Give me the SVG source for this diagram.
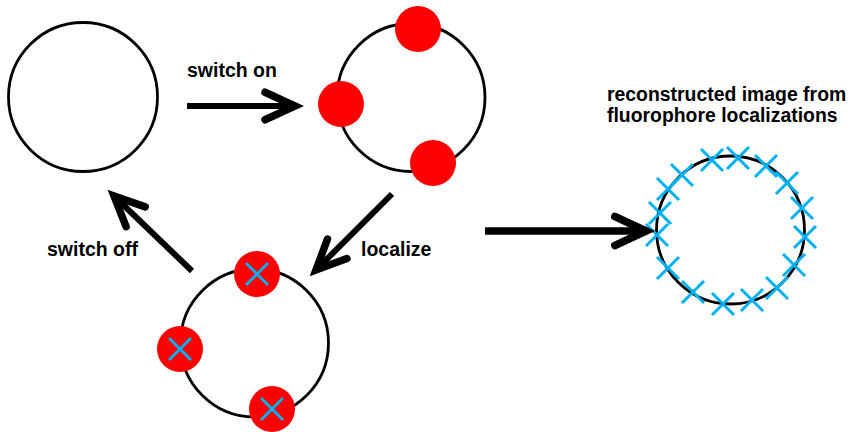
<svg xmlns="http://www.w3.org/2000/svg" width="853" height="432" viewBox="0 0 853 432">
<defs>
<style>
.ring{fill:none;stroke:#000;stroke-width:2.8}
.dot{fill:#ff0000}
.x{stroke:#00b0f0;stroke-width:3;fill:none}
.arr{stroke:#000;stroke-width:6;fill:none}
.lbl{font-family:"Liberation Sans",Arial,sans-serif;font-weight:bold;font-size:19.5px;fill:#000}
</style>
<marker id="ah" markerUnits="userSpaceOnUse" markerWidth="40" markerHeight="40" refX="0" refY="0" viewBox="-30 -15 32 30" orient="auto" overflow="visible">
<path d="M-24,-11 L0,0 L-24,11" fill="none" stroke="#000" stroke-width="6" stroke-linecap="round" stroke-linejoin="miter"/>
</marker>
<marker id="ahL" markerUnits="userSpaceOnUse" markerWidth="40" markerHeight="40" refX="0" refY="0" viewBox="-34 -17 36 34" orient="auto" overflow="visible">
<path d="M-28,-13 L0,0 L-28,13" fill="none" stroke="#000" stroke-width="7" stroke-linecap="round" stroke-linejoin="miter"/>
</marker>
<g id="xm"><path class="x" d="M-11,-11 L11,11 M-11,11 L11,-11"/></g>
</defs>
<rect width="853" height="432" fill="#fff"/>

<g id="node-empty">
<circle class="ring" cx="83" cy="97" r="74.5"/>
</g>

<g id="node-on">
<circle class="ring" cx="411" cy="97.5" r="74"/>
<circle class="dot" cx="418" cy="29" r="23"/>
<circle class="dot" cx="341" cy="104" r="23"/>
<circle class="dot" cx="433" cy="163" r="23"/>
</g>

<g id="node-localized">
<circle class="ring" cx="254.5" cy="343" r="74"/>
<circle class="dot" cx="257" cy="274" r="23"/>
<circle class="dot" cx="180" cy="349" r="23"/>
<circle class="dot" cx="272" cy="409" r="23"/>
<use href="#xm" x="257" y="274"/>
<use href="#xm" x="180" y="349"/>
<use href="#xm" x="272" y="409"/>
</g>

<g id="node-reconstructed">
<circle class="ring" cx="730.5" cy="230" r="74"/>
<use href="#xm" x="668" y="189"/>
<use href="#xm" x="682" y="175"/>
<use href="#xm" x="712" y="160"/>
<use href="#xm" x="738" y="158"/>
<use href="#xm" x="766" y="166"/>
<use href="#xm" x="787" y="183"/>
<use href="#xm" x="802" y="208"/>
<use href="#xm" x="660" y="213"/>
<use href="#xm" x="657" y="235"/>
<use href="#xm" x="668" y="268"/>
<use href="#xm" x="693" y="292"/>
<use href="#xm" x="723" y="304"/>
<use href="#xm" x="752" y="300"/>
<use href="#xm" x="777" y="288"/>
<use href="#xm" x="794" y="265"/>
<use href="#xm" x="805" y="237"/>
</g>

<g id="connectors">
<path class="arr" d="M187,106 L295,106" marker-end="url(#ah)"/>
<path class="arr" d="M392,194 L316,270" marker-end="url(#ah)"/>
<path class="arr" d="M192,271 L114,196" marker-end="url(#ah)"/>
<path class="arr" style="stroke-width:7.5" d="M485,231 L646,231" marker-end="url(#ahL)"/>
</g>

<g id="labels">
<text class="lbl" x="187" y="77">switch on</text>
<text class="lbl" x="47" y="256">switch off</text>
<text class="lbl" x="361" y="256">localize</text>
<text class="lbl" x="607" y="101" style="font-size:19.4px">reconstructed image from</text>
<text class="lbl" x="607" y="122" style="font-size:19.4px">fluorophore localizations</text>
</g>
</svg>
